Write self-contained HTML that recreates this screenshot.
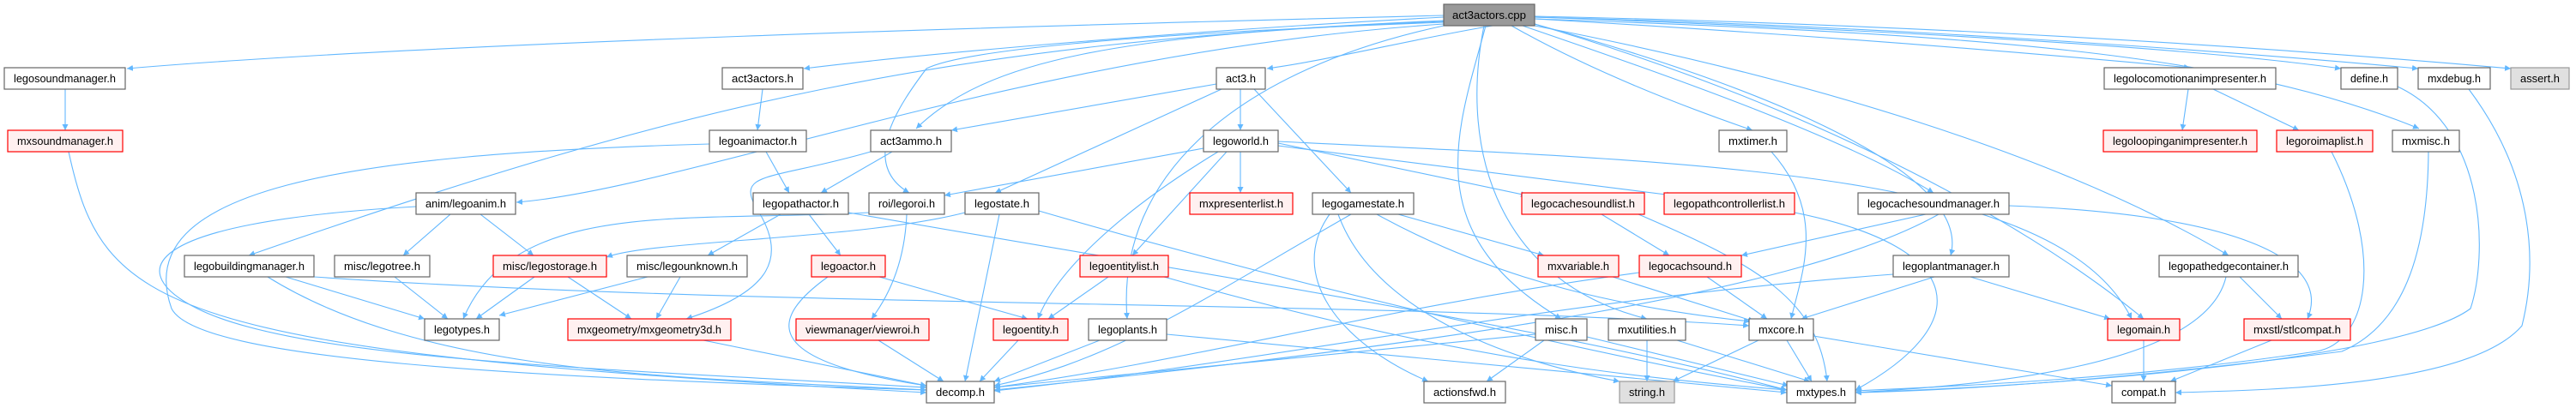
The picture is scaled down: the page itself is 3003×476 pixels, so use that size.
<!DOCTYPE html>
<html><head><meta charset="utf-8"><style>
html,body{margin:0;padding:0;background:#fff;width:3003px;height:476px;overflow:hidden}
svg{display:block}
text{font-family:"Liberation Sans",sans-serif;font-size:13px;fill:#000}
.e{stroke:#63b8ff;stroke-width:1.1;fill:none;marker-end:url(#ah)}
.n rect{fill:#fff;stroke:#666;stroke-width:1.2}
.r rect{fill:#fff0f0;stroke:#ff0000;stroke-width:1.2}
.g rect{fill:#e0e0e0;stroke:#999;stroke-width:1.2}
.c rect{fill:#999;stroke:#666;stroke-width:1.2}
</style></head><body>
<svg width="3003" height="476" viewBox="0 0 3003 476" xmlns="http://www.w3.org/2000/svg">
<defs><marker id="ah" viewBox="0 0 10 10" refX="10" refY="5" markerWidth="7" markerHeight="7" orient="auto" markerUnits="userSpaceOnUse"><path d="M0,0 L10,5 L0,10 z" fill="#63b8ff"/></marker></defs>
<g>
<path class="e" d="M1683,18 C1200,30 500,50 148,80"/>
<path class="e" d="M1683,20 C1400,35 1100,60 937,80"/>
<path class="e" d="M1740,30 C1650,45 1550,70 1477,80"/>
<path class="e" d="M1789,22 C2100,40 2350,60 2553,79"/>
<path class="e" d="M1789,20 C2200,35 2550,55 2729,80"/>
<path class="e" d="M1789,20 C2200,30 2600,60 2819,80"/>
<path class="e" d="M1789,19 C2300,30 2700,60 2927,80"/>
<path class="e" d="M1683,25 C1300,40 1150,70 1068,150"/>
<path class="e" d="M1762,30 C1850,80 1950,120 2043,152"/>
<path class="e" d="M1789,22 C2300,40 2600,60 2820,150"/>
<path class="e" d="M1683,28 C1200,60 800,220 602,236"/>
<path class="e" d="M1683,26 C1300,40 1120,60 1080,80 C1050,120 1000,190 1060,225"/>
<path class="e" d="M1775,30 C1950,90 2150,160 2254,225"/>
<path class="e" d="M1683,24 C1100,50 800,120 290,298"/>
<path class="e" d="M1789,28 C2050,100 2300,200 2274,298"/>
<path class="e" d="M1789,30 C2100,90 2400,180 2598,298"/>
<path class="e" d="M1683,30 C1450,80 1300,200 1314,372"/>
<path class="e" d="M1732,30 C1700,150 1650,270 1820,372"/>
<path class="e" d="M1730,30 C1700,180 1750,330 1920,372"/>
<path class="e" d="M1789,28 C2100,120 2350,250 2499,372"/>
<path class="e" d="M76,104 L76,152"/>
<path class="e" d="M80,177 C120,360 180,410 1080,458"/>
<path class="e" d="M889,104 L883,152"/>
<path class="e" d="M893,177 L920,225"/>
<path class="e" d="M827,168 C400,180 150,220 200,360 C230,420 600,440 1080,455"/>
<path class="e" d="M1418,98 L1109,152"/>
<path class="e" d="M1446,104 L1446,152"/>
<path class="e" d="M1424,104 L1160,225"/>
<path class="e" d="M1462,104 L1575,225"/>
<path class="e" d="M1040,177 L957,225"/>
<path class="e" d="M1015,177 C900,210 860,200 880,240 C920,300 900,340 800,372"/>
<path class="e" d="M1403,173 L1101,228"/>
<path class="e" d="M1446,177 L1446,225"/>
<path class="e" d="M1430,177 L1320,298"/>
<path class="e" d="M1420,177 C1300,250 1230,320 1210,372"/>
<path class="e" d="M1490,167 L1780,228"/>
<path class="e" d="M1490,170 L1950,228"/>
<path class="e" d="M1490,165 C2000,190 2400,200 2485,372"/>
<path class="e" d="M525,250 L470,298"/>
<path class="e" d="M560,250 L622,298"/>
<path class="e" d="M485,241 C150,260 150,320 230,360 C350,420 700,430 1080,452"/>
<path class="e" d="M910,250 L825,298"/>
<path class="e" d="M943,250 L980,298"/>
<path class="e" d="M989,248 C1400,320 1800,380 2083,455"/>
<path class="e" d="M1057,250 C1055,300 1040,340 1016,372"/>
<path class="e" d="M1013,248 C800,260 600,230 540,372"/>
<path class="e" d="M1165,250 L1125,445"/>
<path class="e" d="M1125,248 C1000,280 760,280 707,300"/>
<path class="e" d="M1211,246 C1500,330 1800,400 2083,455"/>
<path class="e" d="M333,323 L495,372"/>
<path class="e" d="M312,323 C500,440 800,440 1080,455"/>
<path class="e" d="M366,323 C900,360 1600,350 2039,380"/>
<path class="e" d="M460,323 L522,372"/>
<path class="e" d="M623,323 L555,372"/>
<path class="e" d="M662,323 L736,372"/>
<path class="e" d="M755,323 L582,368"/>
<path class="e" d="M793,323 L765,372"/>
<path class="e" d="M1025,323 L1198,372"/>
<path class="e" d="M965,323 C900,370 880,420 1080,450"/>
<path class="e" d="M1292,323 L1222,372"/>
<path class="e" d="M1357,323 C1700,420 1900,440 2083,455"/>
<path class="e" d="M1024,397 L1100,445"/>
<path class="e" d="M820,397 L1080,450"/>
<path class="e" d="M1187,397 L1142,445"/>
<path class="e" d="M1282,397 L1159,445"/>
<path class="e" d="M1360,390 L2083,458"/>
<path class="e" d="M1575,250 C1400,350 1300,420 1159,450"/>
<path class="e" d="M1550,250 C1500,320 1560,400 1665,445"/>
<path class="e" d="M1560,250 C1600,360 1750,420 1888,445"/>
<path class="e" d="M1630,250 L1800,298"/>
<path class="e" d="M1605,250 C1750,330 1900,360 2040,375"/>
<path class="e" d="M1867,250 L1946,298"/>
<path class="e" d="M1910,250 C2050,310 2120,350 2130,445"/>
<path class="e" d="M2092,248 C2300,290 2300,380 2163,455"/>
<path class="e" d="M2245,250 L2030,298"/>
<path class="e" d="M2342,240 C2600,250 2720,300 2690,372"/>
<path class="e" d="M2260,250 C2100,340 1700,400 1159,455"/>
<path class="e" d="M1880,323 L2045,375"/>
<path class="e" d="M1990,323 L2060,372"/>
<path class="e" d="M1911,318 C1600,360 1400,420 1159,452"/>
<path class="e" d="M2065,177 C2130,250 2100,320 2088,372"/>
<path class="e" d="M2297,323 L2460,372"/>
<path class="e" d="M2255,323 L2100,372"/>
<path class="e" d="M2207,320 C1800,350 1500,420 1159,456"/>
<path class="e" d="M2611,323 L2660,372"/>
<path class="e" d="M2595,323 C2570,430 2300,450 2163,458"/>
<path class="e" d="M1790,390 C1500,420 1300,440 1159,452"/>
<path class="e" d="M1800,397 L1733,445"/>
<path class="e" d="M1850,393 L2085,450"/>
<path class="e" d="M1920,397 L1920,445"/>
<path class="e" d="M1955,397 L2110,445"/>
<path class="e" d="M2050,397 L1950,445"/>
<path class="e" d="M2083,397 L2112,445"/>
<path class="e" d="M2114,392 L2462,450"/>
<path class="e" d="M2499,397 L2499,445"/>
<path class="e" d="M2648,397 L2530,445"/>
<path class="e" d="M2551,104 L2544,152"/>
<path class="e" d="M2580,104 L2680,152"/>
<path class="e" d="M2718,177 C2780,300 2760,400 2700,410 C2500,440 2300,450 2163,456"/>
<path class="e" d="M2831,177 C2830,300 2800,380 2730,410 C2500,440 2300,455 2163,458"/>
<path class="e" d="M2795,101 C2900,150 2900,300 2880,360 C2800,420 2400,450 2163,458"/>
<path class="e" d="M2878,104 C2950,200 2960,300 2940,380 C2880,450 2650,455 2536,458"/>
</g>
<g class="c"><rect x="1683" y="5" width="106" height="25"/><text x="1736" y="22" text-anchor="middle" textLength="86" lengthAdjust="spacingAndGlyphs">act3actors.cpp</text></g>
<g class="n"><rect x="5" y="79" width="141" height="25"/><text x="75.5" y="96" text-anchor="middle" textLength="119" lengthAdjust="spacingAndGlyphs">legosoundmanager.h</text></g>
<g class="r"><rect x="9" y="152" width="134" height="25"/><text x="76" y="169" text-anchor="middle" textLength="112" lengthAdjust="spacingAndGlyphs">mxsoundmanager.h</text></g>
<g class="n"><rect x="842" y="79" width="94" height="25"/><text x="889" y="96" text-anchor="middle" textLength="72" lengthAdjust="spacingAndGlyphs">act3actors.h</text></g>
<g class="n"><rect x="1418" y="79" width="57" height="25"/><text x="1446.5" y="96" text-anchor="middle" textLength="35" lengthAdjust="spacingAndGlyphs">act3.h</text></g>
<g class="n"><rect x="2453" y="79" width="200" height="25"/><text x="2553" y="96" text-anchor="middle" textLength="178" lengthAdjust="spacingAndGlyphs">legolocomotionanimpresenter.h</text></g>
<g class="n"><rect x="2729" y="79" width="66" height="25"/><text x="2762" y="96" text-anchor="middle" textLength="44" lengthAdjust="spacingAndGlyphs">define.h</text></g>
<g class="n"><rect x="2819" y="79" width="84" height="25"/><text x="2861" y="96" text-anchor="middle" textLength="62" lengthAdjust="spacingAndGlyphs">mxdebug.h</text></g>
<g class="g"><rect x="2927" y="79" width="68" height="25"/><text x="2961" y="96" text-anchor="middle" textLength="46" lengthAdjust="spacingAndGlyphs">assert.h</text></g>
<g class="n"><rect x="827" y="152" width="113" height="25"/><text x="883.5" y="169" text-anchor="middle" textLength="91" lengthAdjust="spacingAndGlyphs">legoanimactor.h</text></g>
<g class="n"><rect x="1015" y="152" width="94" height="25"/><text x="1062" y="169" text-anchor="middle" textLength="72" lengthAdjust="spacingAndGlyphs">act3ammo.h</text></g>
<g class="n"><rect x="1403" y="152" width="87" height="25"/><text x="1446.5" y="169" text-anchor="middle" textLength="65" lengthAdjust="spacingAndGlyphs">legoworld.h</text></g>
<g class="n"><rect x="2004" y="152" width="79" height="25"/><text x="2043.5" y="169" text-anchor="middle" textLength="57" lengthAdjust="spacingAndGlyphs">mxtimer.h</text></g>
<g class="r"><rect x="2452" y="152" width="179" height="25"/><text x="2541.5" y="169" text-anchor="middle" textLength="157" lengthAdjust="spacingAndGlyphs">legoloopinganimpresenter.h</text></g>
<g class="r"><rect x="2654" y="152" width="112" height="25"/><text x="2710" y="169" text-anchor="middle" textLength="90" lengthAdjust="spacingAndGlyphs">legoroimaplist.h</text></g>
<g class="n"><rect x="2789" y="152" width="78" height="25"/><text x="2828" y="169" text-anchor="middle" textLength="56" lengthAdjust="spacingAndGlyphs">mxmisc.h</text></g>
<g class="n"><rect x="485" y="225" width="116" height="25"/><text x="543" y="242" text-anchor="middle" textLength="94" lengthAdjust="spacingAndGlyphs">anim/legoanim.h</text></g>
<g class="n"><rect x="878" y="225" width="111" height="25"/><text x="933.5" y="242" text-anchor="middle" textLength="89" lengthAdjust="spacingAndGlyphs">legopathactor.h</text></g>
<g class="n"><rect x="1013" y="225" width="88" height="25"/><text x="1057" y="242" text-anchor="middle" textLength="66" lengthAdjust="spacingAndGlyphs">roi/legoroi.h</text></g>
<g class="n"><rect x="1125" y="225" width="86" height="25"/><text x="1168" y="242" text-anchor="middle" textLength="64" lengthAdjust="spacingAndGlyphs">legostate.h</text></g>
<g class="r"><rect x="1387" y="225" width="120" height="25"/><text x="1447" y="242" text-anchor="middle" textLength="98" lengthAdjust="spacingAndGlyphs">mxpresenterlist.h</text></g>
<g class="n"><rect x="1530" y="225" width="118" height="25"/><text x="1589" y="242" text-anchor="middle" textLength="96" lengthAdjust="spacingAndGlyphs">legogamestate.h</text></g>
<g class="r"><rect x="1774" y="225" width="143" height="25"/><text x="1845.5" y="242" text-anchor="middle" textLength="121" lengthAdjust="spacingAndGlyphs">legocachesoundlist.h</text></g>
<g class="r"><rect x="1940" y="225" width="152" height="25"/><text x="2016" y="242" text-anchor="middle" textLength="130" lengthAdjust="spacingAndGlyphs">legopathcontrollerlist.h</text></g>
<g class="n"><rect x="2166" y="225" width="176" height="25"/><text x="2254" y="242" text-anchor="middle" textLength="154" lengthAdjust="spacingAndGlyphs">legocachesoundmanager.h</text></g>
<g class="n"><rect x="215" y="298" width="151" height="25"/><text x="290.5" y="315" text-anchor="middle" textLength="129" lengthAdjust="spacingAndGlyphs">legobuildingmanager.h</text></g>
<g class="n"><rect x="390" y="298" width="111" height="25"/><text x="445.5" y="315" text-anchor="middle" textLength="89" lengthAdjust="spacingAndGlyphs">misc/legotree.h</text></g>
<g class="r"><rect x="575" y="298" width="132" height="25"/><text x="641" y="315" text-anchor="middle" textLength="110" lengthAdjust="spacingAndGlyphs">misc/legostorage.h</text></g>
<g class="n"><rect x="731" y="298" width="140" height="25"/><text x="801" y="315" text-anchor="middle" textLength="118" lengthAdjust="spacingAndGlyphs">misc/legounknown.h</text></g>
<g class="r"><rect x="946" y="298" width="86" height="25"/><text x="989" y="315" text-anchor="middle" textLength="64" lengthAdjust="spacingAndGlyphs">legoactor.h</text></g>
<g class="r"><rect x="1259" y="298" width="103" height="25"/><text x="1310.5" y="315" text-anchor="middle" textLength="81" lengthAdjust="spacingAndGlyphs">legoentitylist.h</text></g>
<g class="r"><rect x="1793" y="298" width="94" height="25"/><text x="1840" y="315" text-anchor="middle" textLength="72" lengthAdjust="spacingAndGlyphs">mxvariable.h</text></g>
<g class="r"><rect x="1911" y="298" width="119" height="25"/><text x="1970.5" y="315" text-anchor="middle" textLength="97" lengthAdjust="spacingAndGlyphs">legocachsound.h</text></g>
<g class="n"><rect x="2207" y="298" width="135" height="25"/><text x="2274.5" y="315" text-anchor="middle" textLength="113" lengthAdjust="spacingAndGlyphs">legoplantmanager.h</text></g>
<g class="n"><rect x="2517" y="298" width="162" height="25"/><text x="2598" y="315" text-anchor="middle" textLength="140" lengthAdjust="spacingAndGlyphs">legopathedgecontainer.h</text></g>
<g class="n"><rect x="495" y="372" width="87" height="25"/><text x="538.5" y="389" text-anchor="middle" textLength="65" lengthAdjust="spacingAndGlyphs">legotypes.h</text></g>
<g class="r"><rect x="662" y="372" width="190" height="25"/><text x="757" y="389" text-anchor="middle" textLength="168" lengthAdjust="spacingAndGlyphs">mxgeometry/mxgeometry3d.h</text></g>
<g class="r"><rect x="928" y="372" width="155" height="25"/><text x="1005.5" y="389" text-anchor="middle" textLength="133" lengthAdjust="spacingAndGlyphs">viewmanager/viewroi.h</text></g>
<g class="r"><rect x="1158" y="372" width="87" height="25"/><text x="1201.5" y="389" text-anchor="middle" textLength="65" lengthAdjust="spacingAndGlyphs">legoentity.h</text></g>
<g class="n"><rect x="1269" y="372" width="91" height="25"/><text x="1314.5" y="389" text-anchor="middle" textLength="69" lengthAdjust="spacingAndGlyphs">legoplants.h</text></g>
<g class="n"><rect x="1790" y="372" width="60" height="25"/><text x="1820" y="389" text-anchor="middle" textLength="38" lengthAdjust="spacingAndGlyphs">misc.h</text></g>
<g class="n"><rect x="1875" y="372" width="90" height="25"/><text x="1920" y="389" text-anchor="middle" textLength="68" lengthAdjust="spacingAndGlyphs">mxutilities.h</text></g>
<g class="n"><rect x="2039" y="372" width="75" height="25"/><text x="2076.5" y="389" text-anchor="middle" textLength="53" lengthAdjust="spacingAndGlyphs">mxcore.h</text></g>
<g class="r"><rect x="2457" y="372" width="84" height="25"/><text x="2499" y="389" text-anchor="middle" textLength="62" lengthAdjust="spacingAndGlyphs">legomain.h</text></g>
<g class="r"><rect x="2616" y="372" width="124" height="25"/><text x="2678" y="389" text-anchor="middle" textLength="102" lengthAdjust="spacingAndGlyphs">mxstl/stlcompat.h</text></g>
<g class="n"><rect x="1080" y="445" width="79" height="25"/><text x="1119.5" y="462" text-anchor="middle" textLength="57" lengthAdjust="spacingAndGlyphs">decomp.h</text></g>
<g class="n"><rect x="1660" y="445" width="95" height="25"/><text x="1707.5" y="462" text-anchor="middle" textLength="73" lengthAdjust="spacingAndGlyphs">actionsfwd.h</text></g>
<g class="g"><rect x="1888" y="445" width="64" height="25"/><text x="1920" y="462" text-anchor="middle" textLength="42" lengthAdjust="spacingAndGlyphs">string.h</text></g>
<g class="n"><rect x="2083" y="445" width="80" height="25"/><text x="2123" y="462" text-anchor="middle" textLength="58" lengthAdjust="spacingAndGlyphs">mxtypes.h</text></g>
<g class="n"><rect x="2462" y="445" width="74" height="25"/><text x="2499" y="462" text-anchor="middle" textLength="52" lengthAdjust="spacingAndGlyphs">compat.h</text></g>
</svg>
</body></html>
